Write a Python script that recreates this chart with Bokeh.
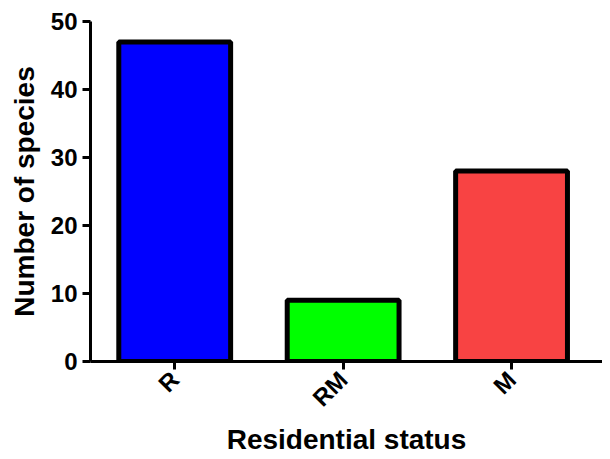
import math
from bokeh.plotting import figure
from bokeh.models import Range1d, FixedTicker, ColumnDataSource
from bokeh.embed import file_html
from bokeh.resources import INLINE

categories = ["R", "RM", "M"]
species_counts = [47, 9, 28]
bar_colors = ["#0000FF", "#00FF00", "#F84343"]
y_ticks = [0, 10, 20, 30, 40, 50]
x_title = "Residential status"
y_title = "Number of species"

positions = list(range(len(categories)))
source = ColumnDataSource(dict(x=positions, top=species_counts, color=bar_colors))

p = figure(width=602, height=457, output_backend="svg", toolbar_location=None,
           x_range=Range1d(-0.5, 2.54), y_range=Range1d(0, 50),
           min_border_left=90, min_border_right=0, min_border_top=21, min_border_bottom=96)

p.vbar(x="x", top="top", bottom=0, width=0.664, fill_color="color",
       line_color="black", line_width=5, source=source)

p.grid.visible = False
p.outline_line_color = None
p.background_fill_color = "white"
p.border_fill_color = "white"

font = "Liberation Sans"
for ax in (p.xaxis[0], p.yaxis[0]):
    ax.axis_line_width = 3
    ax.axis_line_color = "black"
    ax.major_tick_line_width = 3
    ax.major_tick_line_color = "black"
    ax.major_tick_out = 8
    ax.major_tick_in = 0
    ax.minor_tick_line_color = None
    ax.major_label_text_font = font
    ax.major_label_text_font_style = "bold"
    ax.major_label_text_font_size = "24px"
    ax.major_label_text_color = "black"
    ax.axis_label_text_font = font
    ax.axis_label_text_font_style = "bold"
    ax.axis_label_text_font_size = "28px"
    ax.axis_label_text_color = "black"

p.yaxis.ticker = FixedTicker(ticks=y_ticks)
p.yaxis.axis_label = y_title
p.yaxis.major_label_standoff = 5
p.yaxis.axis_label_standoff = 8

p.xaxis.ticker = FixedTicker(ticks=positions)
p.xaxis.major_label_overrides = {i: c for i, c in zip(positions, categories)}
p.xaxis.major_label_orientation = math.pi / 4
p.xaxis.major_label_standoff = 6
p.xaxis.axis_label = x_title
p.xaxis.axis_label_standoff = 0

open("out.html", "w").write(file_html(p, INLINE))
